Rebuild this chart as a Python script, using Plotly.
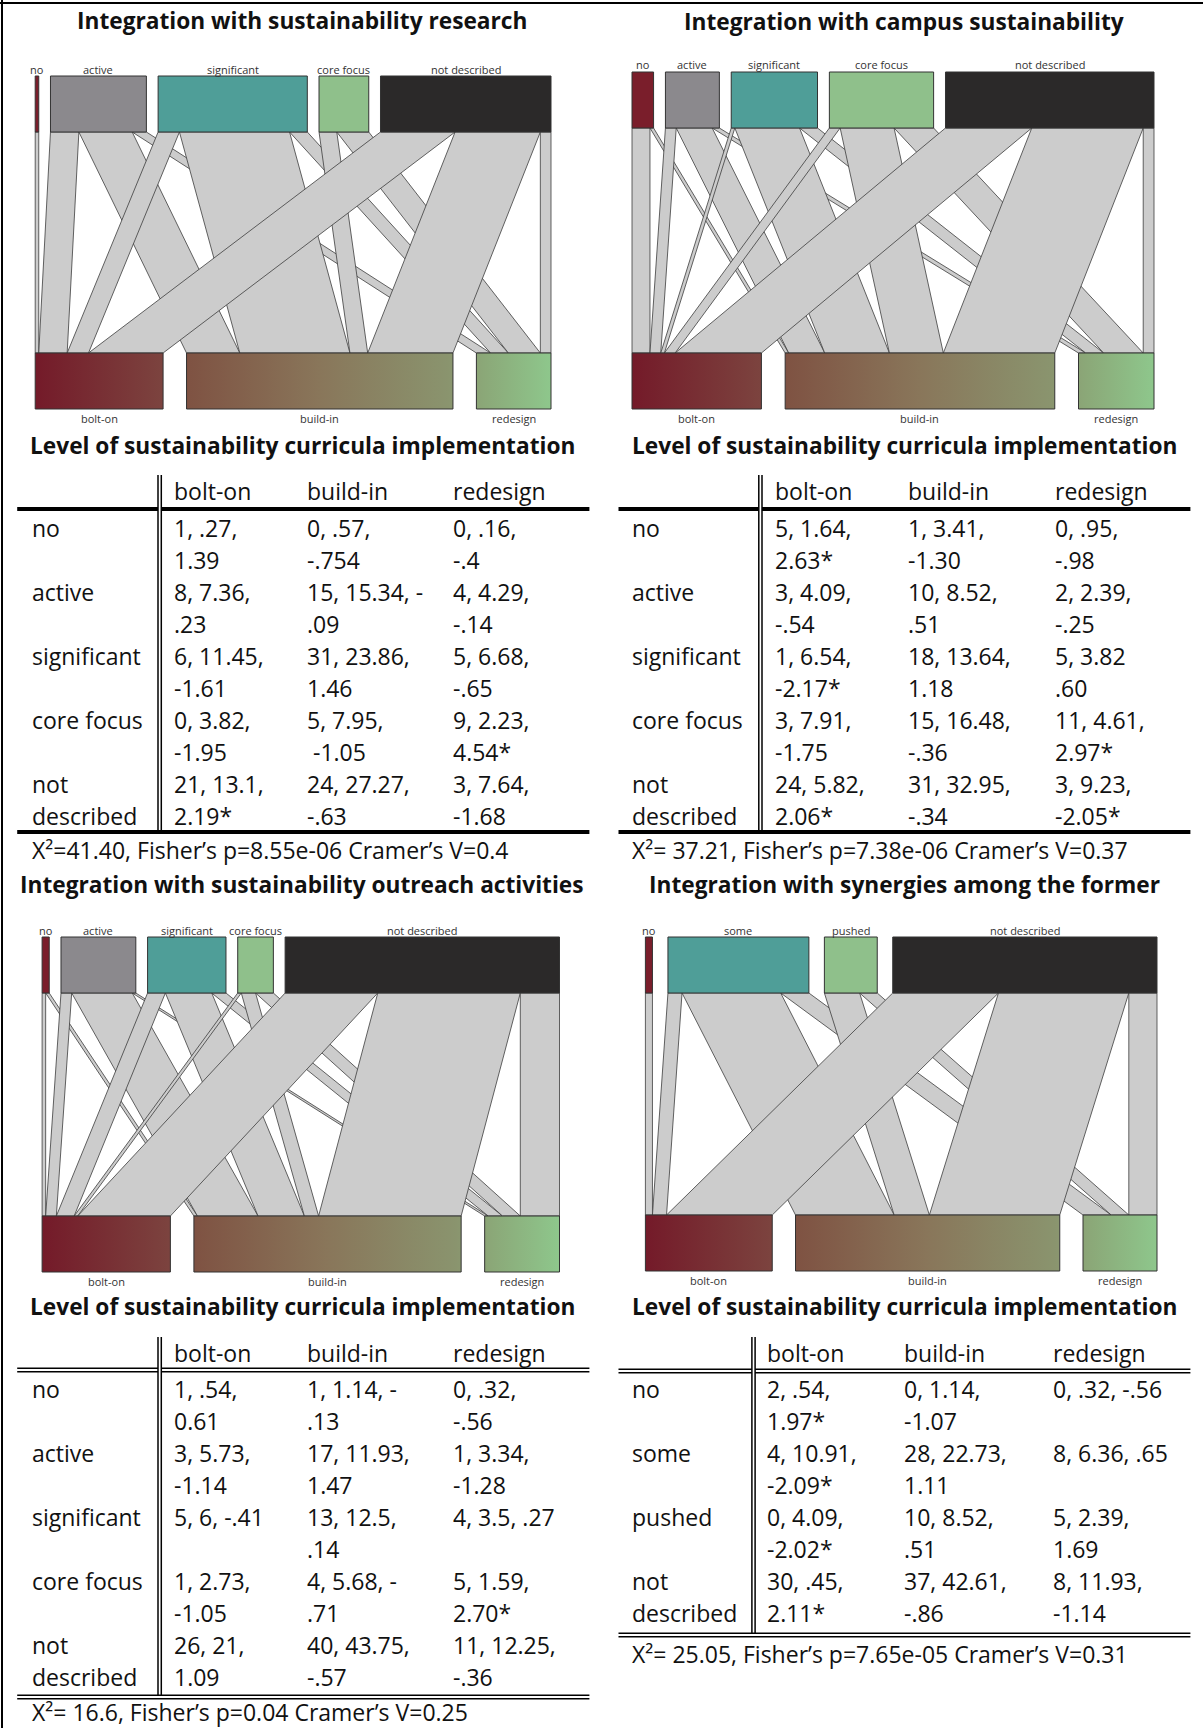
import plotly.graph_objects as go

FIG_W, FIG_H = 1203, 1728

# ---------------------------------------------------------------- data
implementation_levels = ["bolt-on", "build-in", "redesign"]
axis_title = "Level of sustainability curricula implementation"

# cell text: "observed, expected, adjusted residual" (line break where the table wraps)
research_title = "Integration with sustainability research"
research_levels = ["no", "active", "significant", "core focus", "not described"]
research_cells = [
    ["1, .27,\n1.39", "0, .57,\n-.754", "0, .16,\n-.4"],
    ["8, 7.36,\n.23", "15, 15.34, -\n.09", "4, 4.29,\n-.14"],
    ["6, 11.45,\n-1.61", "31, 23.86,\n1.46", "5, 6.68,\n-.65"],
    ["0, 3.82,\n-1.95", "5, 7.95,\n\u00a0-1.05", "9, 2.23,\n4.54*"],
    ["21, 13.1,\n2.19*", "24, 27.27,\n-.63", "3, 7.64,\n-1.68"],
]
research_stats = "X²=41.40, Fisher’s p=8.55e-06 Cramer’s V=0.4"

campus_title = "Integration with campus sustainability"
campus_levels = ["no", "active", "significant", "core focus", "not described"]
campus_cells = [
    ["5, 1.64,\n2.63*", "1, 3.41,\n-1.30", "0, .95,\n-.98"],
    ["3, 4.09,\n-.54", "10, 8.52,\n.51", "2, 2.39,\n-.25"],
    ["1, 6.54,\n-2.17*", "18, 13.64,\n1.18", "5, 3.82\n.60"],
    ["3, 7.91,\n-1.75", "15, 16.48,\n-.36", "11, 4.61,\n2.97*"],
    ["24, 5.82,\n2.06*", "31, 32.95,\n-.34", "3, 9.23,\n-2.05*"],
]
campus_stats = "X²= 37.21, Fisher’s p=7.38e-06 Cramer’s V=0.37"

outreach_title = "Integration with sustainability outreach activities"
outreach_levels = ["no", "active", "significant", "core focus", "not described"]
outreach_cells = [
    ["1, .54,\n0.61", "1, 1.14, -\n.13", "0, .32,\n-.56"],
    ["3, 5.73,\n-1.14", "17, 11.93,\n1.47", "1, 3.34,\n-1.28"],
    ["5, 6, -.41", "13, 12.5,\n.14", "4, 3.5, .27"],
    ["1, 2.73,\n-1.05", "4, 5.68, -\n.71", "5, 1.59,\n2.70*"],
    ["26, 21,\n1.09", "40, 43.75,\n-.57", "11, 12.25,\n-.36"],
]
outreach_stats = "X²= 16.6, Fisher’s p=0.04 Cramer’s V=0.25"

synergy_title = "Integration with synergies among the former"
synergy_levels = ["no", "some", "pushed", "not described"]
synergy_cells = [
    ["2, .54,\n1.97*", "0, 1.14,\n-1.07", "0, .32, -.56"],
    ["4, 10.91,\n-2.09*", "28, 22.73,\n1.11", "8, 6.36, .65"],
    ["0, 4.09,\n-2.02*", "10, 8.52,\n.51", "5, 2.39,\n1.69"],
    ["30, .45,\n2.11*", "37, 42.61,\n-.86", "8, 11.93,\n-1.14"],
]
synergy_stats = "X²= 25.05, Fisher’s p=7.65e-05 Cramer’s V=0.31"

# ---------------------------------------------------------------- styling
level_colors = {
    "no": "#7a1e2b",
    "active": "#8b898d",
    "significant": "#4f9e98",
    "some": "#4f9e98",
    "core focus": "#8fc08b",
    "pushed": "#8fc08b",
    "not described": "#2b2929",
}
implementation_scale = [
    [0.0, "#741a29"], [0.25, "#7c443f"], [0.30, "#7f5343"], [0.55, "#89765a"],
    [0.80, "#8a946e"], [0.87, "#8ba878"], [1.0, "#8ec78c"],
]
LINK_FILL = "#cccccc"
EDGE = "#3c3c3c"
TITLE_FONT = dict(family="Open Sans", size=22.7, color="#111111", weight="bold")
TABLE_FONT = dict(family="Open Sans", size=23, color="#111111")
NODE_FONT = dict(family="Open Sans", size=11, color="#333333")

NODE_H = 56
LINE_STEP = 32
TEXT_PAD = 3  # annotation box padding, taken off left-aligned text positions

panels = [
    dict(title=research_title, levels=research_levels, cells=research_cells, stats=research_stats,
         title_x=302, title_y=20.5, axis_y=445, box=(35.2, 551.0, 76, 409),
         label_x=32.5, col_x=(175.3, 308.0, 453.5), vlines=(158.0, 161.3), rule=(17.2, 589.4),
         header_y=491, rule_y=509, first_y=528, bottom_y=832, stats_y=850, vtop=475, double=False),
    dict(title=campus_title, levels=campus_levels, cells=campus_cells, stats=campus_stats,
         title_x=904, title_y=21.5, axis_y=445, box=(632.0, 1154.0, 72, 409),
         label_x=632.7, col_x=(776.1, 908.8, 1055.8), vlines=(758.8, 762.0), rule=(618.5, 1190.4),
         header_y=491, rule_y=509, first_y=528, bottom_y=832, stats_y=850, vtop=475, double=False),
    dict(title=outreach_title, levels=outreach_levels, cells=outreach_cells, stats=outreach_stats,
         title_x=302, title_y=884.5, axis_y=1306, box=(42.1, 559.5, 937, 1272),
         label_x=32.5, col_x=(175.3, 308.0, 453.5), vlines=(158.0, 161.3), rule=(17.2, 589.4),
         header_y=1353, rule_y=1370, first_y=1389, bottom_y=1697, stats_y=1712, vtop=1337, double=True),
    dict(title=synergy_title, levels=synergy_levels, cells=synergy_cells, stats=synergy_stats,
         title_x=904, title_y=884.5, axis_y=1306, box=(645.4, 1157.0, 937, 1271),
         label_x=632.7, col_x=(768.0, 905.0, 1053.8), vlines=(751.9, 755.1), rule=(618.5, 1190.4),
         header_y=1353, rule_y=1371, first_y=1389, bottom_y=1635, stats_y=1654, vtop=1337, double=True),
]

fig = go.Figure()
annotations = []
shapes = []


def fx(x):
    return x / FIG_W


def fy(y):
    return 1 - y / FIG_H


def text_at(x, y, text, font, xanchor="left"):
    if xanchor == "left":
        x -= TEXT_PAD
    annotations.append(dict(x=fx(x), y=fy(y), xref="paper", yref="paper", text=text,
                            showarrow=False, font=font, xanchor=xanchor, yanchor="middle"))


def hline(x0, x1, y, width):
    shapes.append(dict(type="line", xref="paper", yref="paper", x0=fx(x0), x1=fx(x1),
                       y0=fy(y), y1=fy(y), line=dict(color="black", width=width)))


def vline(x, y0, y1, width):
    shapes.append(dict(type="line", xref="paper", yref="paper", x0=fx(x), x1=fx(x),
                       y0=fy(y0), y1=fy(y1), line=dict(color="black", width=width)))


def observed(cells):
    return [[int(c.split(",")[0]) for c in row] for row in cells]


def add_alluvial(k, levels, counts, box):
    x0, x1, y0, y1 = box
    suffix = "" if k == 1 else str(k)
    xa, ya = "x" + suffix, "y" + suffix
    n_top, n_bot = len(levels), len(implementation_levels)
    total = sum(sum(r) for r in counts)
    span = total * 1.1
    ux = (x1 - x0) / span
    height = y1 - y0
    pad = 4
    fig.layout["xaxis" + suffix] = dict(domain=[fx(x0 - pad), fx(x1 + pad)],
                                        range=[-pad / ux, span + pad / ux], visible=False,
                                        fixedrange=True, anchor=ya)
    fig.layout["yaxis" + suffix] = dict(domain=[fy(y1 + pad), fy(y0 - pad)],
                                        range=[-pad, height + pad], visible=False,
                                        fixedrange=True, anchor=xa)

    top_tot = [sum(r) for r in counts]
    bot_tot = [sum(counts[i][j] for i in range(n_top)) for j in range(n_bot)]
    top_gap = (span - total) / (n_top - 1)
    bot_gap = (span - total) / (n_bot - 1)
    top_left, pos = [], 0.0
    for t in top_tot:
        top_left.append(pos)
        pos += t + top_gap
    bot_left, pos = [], 0.0
    for t in bot_tot:
        bot_left.append(pos)
        pos += t + bot_gap

    y_top = height - NODE_H
    y_bot = NODE_H
    bot_cursor = list(bot_left)
    for i in range(n_top):
        top_cursor = top_left[i]
        for j in range(n_bot):
            w = counts[i][j]
            if w > 0:
                a, b = top_cursor, bot_cursor[j]
                fig.add_trace(go.Scatter(
                    x=[a, a + w, b + w, b, a], y=[y_top, y_top, y_bot, y_bot, y_top],
                    xaxis=xa, yaxis=ya, mode="lines", fill="toself", fillcolor=LINK_FILL,
                    line=dict(color=EDGE, width=0.8), hoverinfo="skip", showlegend=False))
            top_cursor += w
            bot_cursor[j] += w

    for i, lev in enumerate(levels):
        l, r = top_left[i], top_left[i] + top_tot[i]
        fig.add_trace(go.Scatter(
            x=[l, r, r, l, l], y=[y_top, y_top, height, height, y_top], xaxis=xa, yaxis=ya,
            mode="lines", fill="toself", fillcolor=level_colors[lev],
            line=dict(color="#333333", width=1), hoverinfo="skip", showlegend=False))
        text_at(x0 + (l + r) / 2 * ux, y0 - 7, lev, NODE_FONT, "center")
    for j, lev in enumerate(implementation_levels):
        l, r = bot_left[j], bot_left[j] + bot_tot[j]
        fig.add_trace(go.Scatter(
            x=[l, r, r, l, l], y=[0, 0, y_bot, y_bot, 0], xaxis=xa, yaxis=ya,
            mode="lines", fill="toself",
            fillgradient=dict(type="horizontal", colorscale=implementation_scale, start=0, stop=span),
            line=dict(color="#333333", width=1), hoverinfo="skip", showlegend=False))
        text_at(x0 + (l + r) / 2 * ux, y1 + 9, lev, NODE_FONT, "center")


def add_table(p):
    v1, v2 = p["vlines"]
    r0, r1 = p["rule"]
    for cx, name in zip(p["col_x"], implementation_levels):
        text_at(cx, p["header_y"], name, TABLE_FONT)
    if p["double"]:
        for off in (-1.7, 1.7):
            hline(r0, v1, p["rule_y"] + off, 1.4)
            hline(v2, r1, p["rule_y"] + off, 1.4)
            hline(r0, r1, p["bottom_y"] + off, 1.4)
        vbottom = p["bottom_y"] - 1.7
    else:
        hline(r0, v1, p["rule_y"], 4)
        hline(v2, r1, p["rule_y"], 4)
        hline(r0, r1, p["bottom_y"], 4)
        vbottom = p["bottom_y"]
    vline(v1, p["vtop"], vbottom, 1.5)
    vline(v2, p["vtop"], vbottom, 1.5)
    for r, (lev, row) in enumerate(zip(p["levels"], p["cells"])):
        y_row = p["first_y"] + r * 2 * LINE_STEP
        label_lines = lev.split(" ") if len(lev) > 11 else [lev]
        for li, t in enumerate(label_lines):
            text_at(p["label_x"], y_row + li * LINE_STEP, t, TABLE_FONT)
        for cx, cell in zip(p["col_x"], row):
            for li, t in enumerate(cell.split("\n")):
                text_at(cx, y_row + li * LINE_STEP, t, TABLE_FONT)
    text_at(p["label_x"], p["stats_y"], p["stats"], TABLE_FONT)


for k, p in enumerate(panels, start=1):
    add_alluvial(k, p["levels"], observed(p["cells"]), p["box"])
    text_at(p["title_x"], p["title_y"], p["title"], TITLE_FONT, "center")
    text_at(p["title_x"], p["axis_y"], axis_title, TITLE_FONT, "center")
    add_table(p)

# outer frame (top and left edges)
hline(0, FIG_W, 3, 2)
vline(2, 0, FIG_H, 2)

fig.update_layout(
    width=FIG_W, height=FIG_H, margin=dict(l=0, r=0, t=0, b=0),
    paper_bgcolor="white", plot_bgcolor="rgba(0,0,0,0)", showlegend=False,
    annotations=annotations, shapes=shapes,
)
fig.write_html("out.html")
